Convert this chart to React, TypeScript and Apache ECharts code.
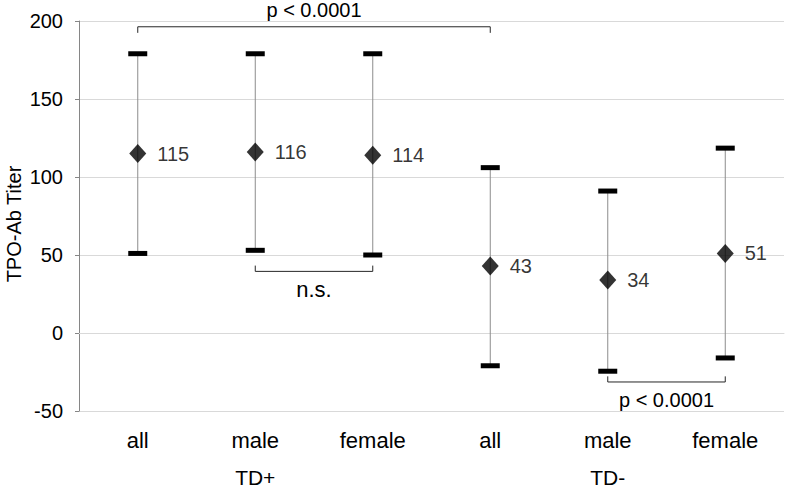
import React, { useEffect, useRef } from "react";
import * as echarts from "echarts";

const categories = ["all", "male", "female", "all", "male", "female"];
const groups = ["TD+", "TD-"];
const means = [115, 116, 114, 43, 34, 51];
const upper = [179, 179, 179, 106, 91, 118.5];
const lower = [51, 53, 50, -21, -24.5, -16];
const yTicks = { min: -50, max: 200, interval: 50 };
// brackets: [fromIndex, toIndex, level, tickEnd, text, textDirection]
const brackets: [number, number, number, number, string, number][] = [
  [0, 3, 196.3, 192.4, "p < 0.0001", -1],
  [1, 2, 39.5, 43.2, "n.s.", 1],
  [4, 5, -31.4, -27.8, "p < 0.0001", 1],
];

const FONT = "'Liberation Sans', Arial, sans-serif";
const FS = 20;
const FS_WORD = 22;

export default function App() {
  const ref = useRef<HTMLDivElement>(null);
  useEffect(() => {
    if (!ref.current) return;
    const chart = echarts.init(ref.current, null, { renderer: "svg" });
    chart.setOption({
      animation: false,
      textStyle: { fontFamily: FONT },
      grid: {
        left: 79,
        right: 3,
        top: 21,
        bottom: 79,
        containLabel: false,
        outerBoundsMode: "none",
      },
      xAxis: [
        {
          type: "category",
          data: categories.map((_, i) => String(i)),
          axisLabel: {
            formatter: (v: string) => categories[Number(v)],
            fontSize: FS_WORD,
            color: "#000",
            margin: 18,
            fontFamily: FONT,
          },
          axisTick: { show: false },
          axisLine: { show: true, lineStyle: { color: "#d9d9d9" } },
        },
        {
          type: "category",
          data: groups,
          position: "bottom",
          offset: 38,
          axisLabel: { fontSize: 21, color: "#000", margin: 18, fontFamily: FONT },
          axisTick: { show: false },
          axisLine: { show: false },
        },
      ],
      yAxis: {
        type: "value",
        min: yTicks.min,
        max: yTicks.max,
        interval: yTicks.interval,
        name: "TPO-Ab Titer",
        nameLocation: "middle",
        nameRotate: 90,
        nameGap: 55,
        nameMoveOverlap: false,
        nameTextStyle: { fontSize: 20, color: "#000", fontFamily: FONT, padding: [0, 16, 0, 0] },
        axisLine: { show: true, lineStyle: { color: "#868686" } },
        axisTick: { show: true, length: 4, lineStyle: { color: "#868686" } },
        axisLabel: { fontSize: FS, color: "#000", margin: 16, fontFamily: FONT },
        splitLine: { lineStyle: { color: "#d9d9d9" } },
      },
      series: [
        {
          type: "custom",
          name: "errors",
          xAxisIndex: 0,
          data: categories.map((_, i) => [i, lower[i], upper[i]]),
          renderItem: (params: any, api: any) => {
            const x = api.value(0);
            const lo = api.coord([x, api.value(1)]);
            const hi = api.coord([x, api.value(2)]);
            const hw = 9.5;
            return {
              type: "group",
              children: [
                {
                  type: "line",
                  shape: { x1: lo[0], y1: lo[1], x2: hi[0], y2: hi[1] },
                  style: { stroke: "#8c8c8c", lineWidth: 1 },
                },
                {
                  type: "rect",
                  shape: { x: hi[0] - hw, y: hi[1] - 2.5, width: hw * 2, height: 5 },
                  style: { fill: "#000" },
                },
                {
                  type: "rect",
                  shape: { x: lo[0] - hw, y: lo[1] - 2.5, width: hw * 2, height: 5 },
                  style: { fill: "#000" },
                },
              ],
            };
          },
          z: 2,
        },
        {
          type: "scatter",
          xAxisIndex: 0,
          data: categories.map((_, i) => [i, means[i]]),
          symbol: "diamond",
          symbolSize: [17, 19],
          itemStyle: { color: "#000" },
          label: {
            show: true,
            position: "right",
            distance: 11,
            formatter: (p: any) => String(p.value[1]),
            fontSize: FS,
            color: "#000",
            fontFamily: FONT,
          },
          z: 3,
        },
        {
          type: "custom",
          name: "brackets",
          xAxisIndex: 0,
          clip: false,
          data: brackets.map((b) => [b[0], b[1], b[2], b[3], b[5]]),
          renderItem: (params: any, api: any) => {
            const b = brackets[params.dataIndex];
            const a = api.coord([api.value(0), api.value(2)]);
            const c = api.coord([api.value(1), api.value(2)]);
            const t = api.coord([api.value(0), api.value(3)]);
            const dir = api.value(4);
            const mid = (a[0] + c[0]) / 2;
            return {
              type: "group",
              children: [
                {
                  type: "polyline",
                  shape: { points: [[a[0], t[1]], [a[0], a[1]], [c[0], c[1]], [c[0], t[1]]] },
                  style: { stroke: "#262626", lineWidth: 1, fill: null },
                },
                {
                  type: "text",
                  x: mid,
                  y: dir < 0 ? a[1] - 17 : a[1] + 18,
                  style: {
                    text: b[4],
                    fontSize: b[4] === "n.s." ? FS_WORD : FS,
                    fill: "#000",
                    fontFamily: FONT,
                    align: "center",
                    verticalAlign: "middle",
                  },
                },
              ],
            };
          },
          z: 4,
        },
      ],
    });
    return () => chart.dispose();
  }, []);
  return <div ref={ref} style={{ width: 787, height: 490, position: "absolute", left: 0, top: 0 }} />;
}
